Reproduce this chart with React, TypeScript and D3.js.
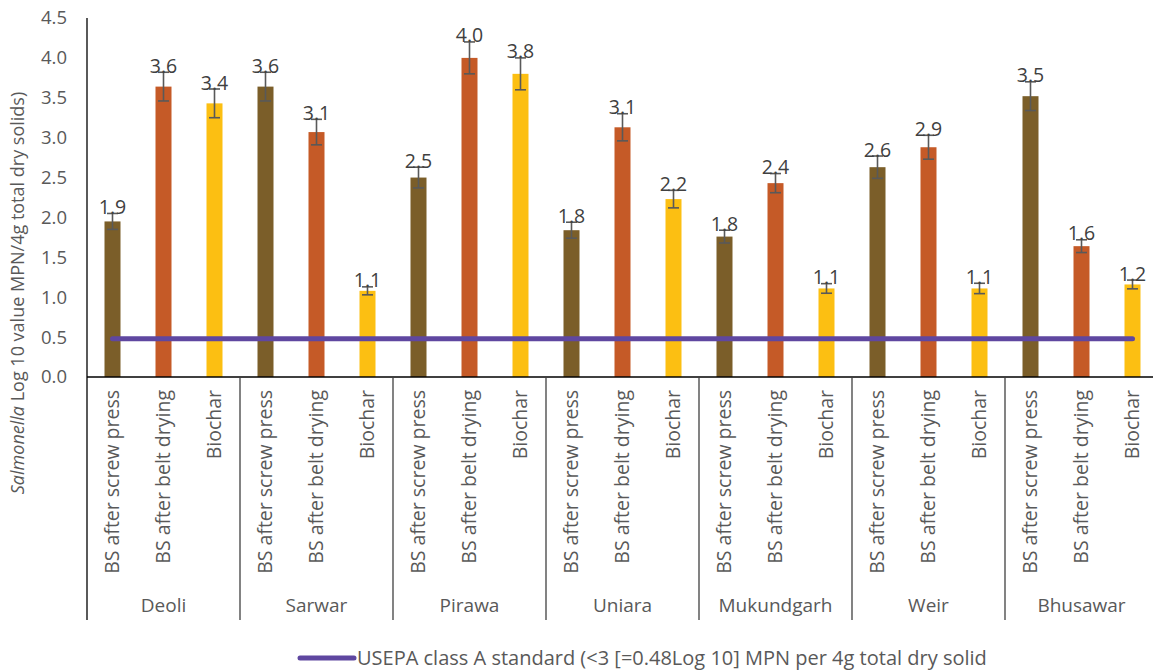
import React from "react";
import * as d3 from "d3";

const groups = ["Deoli", "Sarwar", "Pirawa", "Uniara", "Mukundgarh", "Weir", "Bhusawar"];
const seriesNames = ["BS after screw press", "BS after belt drying", "Biochar"];
const screwPress = [1.95, 3.64, 2.5, 1.84, 1.76, 2.63, 3.52];
const beltDrying = [3.64, 3.07, 4.0, 3.13, 2.43, 2.88, 1.64];
const biochar = [3.43, 1.08, 3.8, 2.23, 1.11, 1.11, 1.16];
const screwPressErr = [0.1, 0.18, 0.13, 0.1, 0.08, 0.14, 0.18];
const beltDryingErr = [0.18, 0.16, 0.2, 0.17, 0.12, 0.15, 0.08];
const biocharErr = [0.18, 0.05, 0.2, 0.11, 0.06, 0.065, 0.055];
const yTicks = [0, 0.5, 1, 1.5, 2, 2.5, 3, 3.5, 4, 4.5];
const standardValue = 0.48;
const legendLabel = "USEPA class A standard (<3 [=0.48Log 10] MPN per 4g total dry solid";

const colors = ["#7B5E29", "#C55A27", "#FCBF12"];
const FONT = "'Open Sans', Lato, sans-serif";

export default function App() {
  const W = 1153, H = 670;
  const left = 87, groupW = 153, top = 18, bottom = 377;
  const x0 = d3.scaleBand<string>().domain(groups).range([left, left + groupW * groups.length]).padding(0);
  const x1 = d3.scaleBand<string>().domain(seriesNames).range([0, x0.bandwidth()]).padding(0);
  const y = d3.scaleLinear().domain([0, 4.5]).range([bottom, top]);
  const values = [screwPress, beltDrying, biochar];
  const errs = [screwPressErr, beltDryingErr, biocharErr];
  const barW = 16;
  const capW = 11;

  const bars: any[] = [];
  groups.forEach((g, gi) => {
    seriesNames.forEach((s, si) => {
      const cx = (x0(g) as number) + (x1(s) as number) + x1.bandwidth() / 2;
      const v = values[si][gi];
      const e = errs[si][gi];
      bars.push({ g, s, si, gi, cx, v, e });
    });
  });
  const firstCx = bars[0].cx;
  const lastCx = bars[bars.length - 1].cx;

  return (
    <svg width={W} height={H} style={{ position: "absolute", left: 0, top: 0, background: "#fff" }} fontFamily={FONT}>
      {yTicks.map((t) => (
        <text key={t} x={67} y={y(t)} dy="0.35em" textAnchor="end" fontSize={18.5} fill="#595959">
          {d3.format(".1f")(t)}
        </text>
      ))}
      <text transform={`translate(24,293) rotate(-90)`} textAnchor="middle" fontSize={18} fill="#595959">
        <tspan fontStyle="italic">Salmonella</tspan>
        <tspan> Log 10 value MPN/4g total dry solids)</tspan>
      </text>
      {bars.map((b, i) => (
        <rect key={"b" + i} x={b.cx - barW / 2} y={y(b.v)} width={barW} height={y(0) - y(b.v)} fill={colors[b.si]} />
      ))}
      <line x1={firstCx} x2={lastCx} y1={y(standardValue)} y2={y(standardValue)} stroke="#5F47A0" strokeWidth={5} strokeLinecap="round" />
      {bars.map((b, i) => {
        const yt = y(b.v + b.e), yb = y(b.v - b.e);
        return (
          <g key={"e" + i} stroke="#595959" strokeWidth={1.6}>
            <line x1={b.cx} x2={b.cx} y1={yt} y2={yb} />
            <line x1={b.cx - capW / 2} x2={b.cx + capW / 2} y1={yt} y2={yt} />
            <line x1={b.cx - capW / 2} x2={b.cx + capW / 2} y1={yb} y2={yb} />
          </g>
        );
      })}
      {bars.map((b, i) => (
        <text key={"l" + i} x={b.cx} y={y(b.v + b.e) + 0.5} textAnchor="middle" fontSize={19.5} fill="#404040">
          {d3.format(".1f")(b.v)}
        </text>
      ))}
      <line x1={left} x2={left} y1={top} y2={620} stroke="#000" strokeWidth={1.3} />
      <line x1={left} x2={left + groupW * groups.length} y1={bottom} y2={bottom} stroke="#000" strokeWidth={1.3} />
      {groups.slice(1).map((g) => (
        <line key={"s" + g} x1={x0(g) as number} x2={x0(g) as number} y1={bottom} y2={620} stroke="#404040" strokeWidth={1.3} />
      ))}
      {bars.map((b, i) => (
        <text key={"c" + i} transform={`translate(${b.cx + 6.5},390) rotate(-90)`} textAnchor="end" fontSize={19.5} fill="#595959">
          {b.s}
        </text>
      ))}
      {groups.map((g) => (
        <text key={"g" + g} x={(x0(g) as number) + x0.bandwidth() / 2} y={612} textAnchor="middle" fontSize={19} fill="#595959">
          {g}
        </text>
      ))}
      <line x1={300} x2={354} y1={658} y2={658} stroke="#5F47A0" strokeWidth={5} strokeLinecap="round" />
      <text x={357} y={658} dy="0.35em" fontSize={20} fill="#595959">{legendLabel}</text>
    </svg>
  );
}
